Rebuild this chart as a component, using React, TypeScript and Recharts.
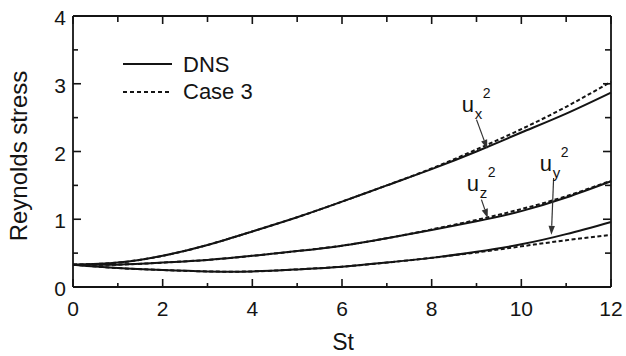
import { LineChart, Line, XAxis, YAxis, Legend, ReferenceLine, ReferenceDot } from "recharts";

const FONT = "'Liberation Sans', Arial, Helvetica, sans-serif";
const INK = "#141414";

const st = [0, 1, 2, 3, 4, 5, 6, 7, 8, 9, 10, 11, 12];
const uxDns = [0.33, 0.36, 0.46, 0.62, 0.82, 1.03, 1.26, 1.5, 1.74, 2.0, 2.28, 2.56, 2.87];
const uxCase3 = [0.33, 0.36, 0.46, 0.62, 0.82, 1.03, 1.26, 1.5, 1.75, 2.03, 2.33, 2.66, 3.03];
const uyDns = [0.33, 0.28, 0.25, 0.23, 0.23, 0.26, 0.3, 0.36, 0.43, 0.52, 0.63, 0.78, 0.96];
const uyCase3 = [0.33, 0.28, 0.25, 0.23, 0.23, 0.26, 0.3, 0.36, 0.43, 0.51, 0.6, 0.69, 0.77];
const uzDns = [0.33, 0.33, 0.36, 0.4, 0.46, 0.53, 0.61, 0.72, 0.84, 0.97, 1.12, 1.32, 1.56];
const uzCase3 = [0.33, 0.33, 0.36, 0.4, 0.46, 0.53, 0.61, 0.72, 0.85, 0.99, 1.15, 1.34, 1.57];

const yTicks = [0, 0.5, 1, 1.5, 2, 2.5, 3, 3.5, 4];

const legendItems = [
  { name: "DNS", dash: undefined },
  { name: "Case 3", dash: "4 3" },
];

// label anchor + arrow (data units)
const annotations = [
  { sub: "x", x: 8.67, y: 2.58, fromX: 9.0, fromY: 2.47, toX: 9.24, toY: 2.04 },
  { sub: "z", x: 8.78, y: 1.42, fromX: 9.11, fromY: 1.29, toX: 9.25, toY: 1.02 },
  { sub: "y", x: 10.41, y: 1.71, fromX: 10.72, fromY: 1.61, toX: 10.67, toY: 0.77 },
];

const data = st.map((s, i) => ({
  st: s,
  uxDns: uxDns[i],
  uxCase3: uxCase3[i],
  uyDns: uyDns[i],
  uyCase3: uyCase3[i],
  uzDns: uzDns[i],
  uzCase3: uzCase3[i],
}));

// chart box
const W = 626;
const H = 356;
const M = { top: 16, right: 15, left: 73, bottom: 69 };
const PLOT_W = W - M.left - M.right;
const PLOT_H = H - M.top - M.bottom;

const tickText = { fontFamily: FONT, fontSize: 21, fill: INK };

const BottomTick = (props: any) => {
  const { x, y, payload } = props;
  const major = payload.value % 2 === 0;
  return (
    <g>
      <line x1={x} x2={x} y1={y} y2={y - (major ? 8 : 4)} stroke={INK} strokeWidth={1.6} />
      {major && (
        <text x={x} y={y + 29} textAnchor="middle" {...tickText}>
          {payload.value}
        </text>
      )}
    </g>
  );
};

const LeftTick = (props: any) => {
  const { x, y, payload } = props;
  const major = Number.isInteger(payload.value);
  return (
    <g>
      <line x1={x} x2={x + (major ? 8 : 5)} y1={y} y2={y} stroke={INK} strokeWidth={1.6} />
      {major && (
        <text x={x - 7} y={y + 9} textAnchor="end" {...tickText}>
          {payload.value}
        </text>
      )}
    </g>
  );
};

const arrowShape = (props: any) => {
  const { x1, y1, x2, y2 } = props;
  const a = Math.atan2(y2 - y1, x2 - x1);
  const L = 9;
  const hw = 3.2;
  const bx = x2 - L * Math.cos(a);
  const by = y2 - L * Math.sin(a);
  const px = -Math.sin(a) * hw;
  const py = Math.cos(a) * hw;
  return (
    <g>
      <line x1={x1} y1={y1} x2={bx} y2={by} stroke="#333" strokeWidth={1.2} />
      <polygon points={`${x2},${y2} ${bx + px},${by + py} ${bx - px},${by - py}`} fill="#333" />
    </g>
  );
};

const labelShape = (sub: string) => (props: any) => {
  const { cx, cy } = props;
  return (
    <g fontFamily={FONT} fill={INK}>
      <text x={cx} y={cy} fontSize={22}>u</text>
      <text x={cx + 13} y={cy + 7} fontSize={15}>{sub}</text>
      <text x={cx + 21} y={cy - 14} fontSize={14}>2</text>
    </g>
  );
};

const LegendBox = () => (
  <svg width={150} height={58}>
    {legendItems.map((it, i) => (
      <g key={it.name}>
        <line x1={5} x2={54} y1={14 + i * 28} y2={14 + i * 28} stroke={INK} strokeWidth={it.dash ? 1.8 : 2} strokeDasharray={it.dash} />
        <text x={65} y={22 + i * 27} fontFamily={FONT} fontSize={22} fill={INK}>
          {it.name}
        </text>
      </g>
    ))}
  </svg>
);

// top and right edges of the frame with their inward ticks, mirrored from the axes
const FrameOverlay = () => (
  <svg
    width={W}
    height={H}
    style={{ position: "absolute", left: 0, top: 0, zIndex: 10, pointerEvents: "none" }}
  >
    <line x1={M.left} x2={M.left + PLOT_W} y1={M.top} y2={M.top} stroke={INK} strokeWidth={1.8} />
    <line x1={M.left + PLOT_W} x2={M.left + PLOT_W} y1={M.top} y2={M.top + PLOT_H} stroke={INK} strokeWidth={1.8} />
    {st.map((v) => {
      const x = M.left + (v / 12) * PLOT_W;
      return <line key={"t" + v} x1={x} x2={x} y1={M.top} y2={M.top + (v % 2 === 0 ? 8 : 6)} stroke={INK} strokeWidth={1.6} />;
    })}
    {yTicks.map((v) => {
      const y = M.top + PLOT_H - (v / 4) * PLOT_H;
      const x = M.left + PLOT_W;
      return <line key={"r" + v} x1={x} x2={x - (Number.isInteger(v) ? 8 : 6)} y1={y} y2={y} stroke={INK} strokeWidth={1.6} />;
    })}
  </svg>
);

const lineProps = {
  type: "natural" as const,
  stroke: INK,
  strokeWidth: 2,
  dot: false,
  activeDot: false,
  isAnimationActive: false,
};

export default function App() {
  return (
    <div style={{ position: "absolute", left: 0, top: 0, width: W, height: H, background: "#fff" }}>
      <LineChart width={W} height={H} data={data} margin={{ top: M.top, right: M.right, bottom: 0, left: 0 }}>
        <XAxis
          dataKey="st"
          type="number"
          domain={[0, 12]}
          ticks={st}
          interval={0}
          height={M.bottom}
          tickSize={0}
          tickMargin={0}
          tickLine={false}
          axisLine={{ stroke: INK, strokeWidth: 1.8 }}
          tick={BottomTick}
          label={{
            content: () => (
              <text x={343} y={350} textAnchor="middle" fontFamily={FONT} fontSize={23} fill={INK}>
                St
              </text>
            ),
          }}
        />
        <YAxis
          type="number"
          domain={[0, 4]}
          ticks={yTicks}
          interval={0}
          width={M.left}
          tickSize={0}
          tickMargin={0}
          tickLine={false}
          axisLine={{ stroke: INK, strokeWidth: 1.8 }}
          tick={LeftTick}
          label={{
            content: () => (
              <text
                x={27}
                y={156}
                transform="rotate(-90, 27, 156)"
                textAnchor="middle"
                fontFamily={FONT}
                fontSize={24}
                fill={INK}
              >
                Reynolds stress
              </text>
            ),
          }}
        />
        <Legend
          layout="vertical"
          align="center"
          verticalAlign="middle"
          content={() => <LegendBox />}
          wrapperStyle={{ left: 118, top: 50, width: 150, height: 58 }}
        />
        <Line dataKey="uxDns" {...lineProps} />
        <Line dataKey="uyDns" {...lineProps} />
        <Line dataKey="uzDns" {...lineProps} />
        <Line dataKey="uxCase3" strokeDasharray="4 2.5" {...lineProps} />
        <Line dataKey="uyCase3" strokeDasharray="4 2.5" {...lineProps} />
        <Line dataKey="uzCase3" strokeDasharray="4 2.5" {...lineProps} />
        {annotations.map((a) => (
          <ReferenceLine
            key={"arrow-" + a.sub}
            segment={[
              { x: a.fromX, y: a.fromY },
              { x: a.toX, y: a.toY },
            ]}
            shape={arrowShape}
          />
        ))}
        {annotations.map((a) => (
          <ReferenceDot key={"lbl-" + a.sub} x={a.x} y={a.y} r={0} shape={labelShape(a.sub)} />
        ))}
      </LineChart>
      <FrameOverlay />
    </div>
  );
}
